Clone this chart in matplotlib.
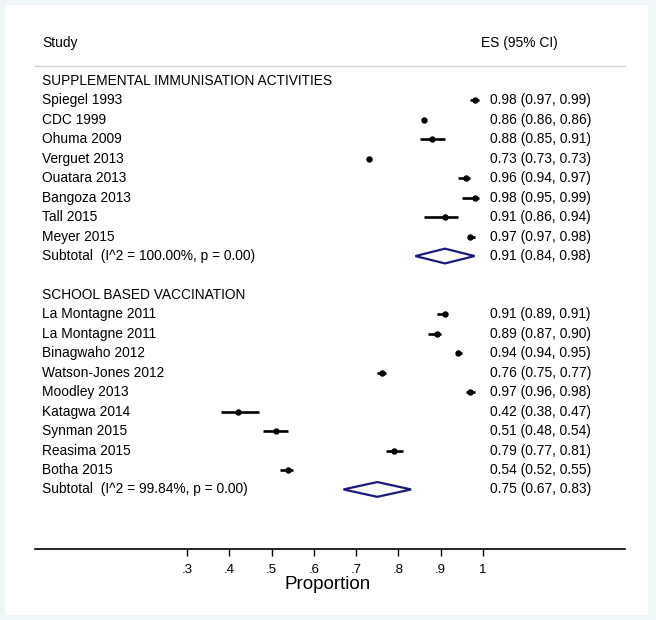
import matplotlib.pyplot as plt
from matplotlib.patches import Polygon, Rectangle

plt.rcParams['font.family'] = ['Liberation Sans', 'DejaVu Sans']

# Data
group1_title = 'SUPPLEMENTAL IMMUNISATION ACTIVITIES'
group1_studies = ['Spiegel 1993', 'CDC 1999', 'Ohuma 2009', 'Verguet 2013',
                  'Ouatara 2013', 'Bangoza 2013', 'Tall 2015', 'Meyer 2015']
group1_es = [0.98, 0.86, 0.88, 0.73, 0.96, 0.98, 0.91, 0.97]
group1_lo = [0.97, 0.86, 0.85, 0.73, 0.94, 0.95, 0.86, 0.97]
group1_hi = [0.99, 0.86, 0.91, 0.73, 0.97, 0.99, 0.94, 0.98]
group1_sub = (0.91, 0.84, 0.98)
group1_sub_label = 'Subtotal  (I^2 = 100.00%, p = 0.00)'

group2_title = 'SCHOOL BASED VACCINATION'
group2_studies = ['La Montagne 2011', 'La Montagne 2011', 'Binagwaho 2012',
                  'Watson-Jones 2012', 'Moodley 2013', 'Katagwa 2014',
                  'Synman 2015', 'Reasima 2015', 'Botha 2015']
group2_es = [0.91, 0.89, 0.94, 0.76, 0.97, 0.42, 0.51, 0.79, 0.54]
group2_lo = [0.89, 0.87, 0.94, 0.75, 0.96, 0.38, 0.48, 0.77, 0.52]
group2_hi = [0.91, 0.90, 0.95, 0.77, 0.98, 0.47, 0.54, 0.81, 0.55]
group2_sub = (0.75, 0.67, 0.83)
group2_sub_label = 'Subtotal  (I^2 = 99.84%, p = 0.00)'

ticks = [0.3, 0.4, 0.5, 0.6, 0.7, 0.8, 0.9, 1.0]
tick_labels = ['.3', '.4', '.5', '.6', '.7', '.8', '.9', '1']

fig = plt.figure(figsize=(6.56, 6.20), dpi=100)
fig.patch.set_facecolor('#eef7f7')
fig.patches.append(Rectangle((5 / 656, 5 / 620), 643 / 656, 610 / 620,
                             transform=fig.transFigure, facecolor='white',
                             edgecolor='none', zorder=-10))

ax = fig.add_axes([0, 0, 1, 1])
ax.set_facecolor('none')
px_per_unit = 422.9
x0 = 0.3 - 187 / px_per_unit
ax.set_xlim(x0, x0 + 656 / px_per_unit)
row_px = 19.45
ax.set_ylim((620 - 81) / row_px, -81 / row_px)

name_x = x0 + 42 / px_per_unit
es_x = x0 + 490 / px_per_unit
fs = 9.9
navy = '#1a1a7a'


def draw_group(start, title, studies, es, lo, hi, sub, sub_label):
    ax.text(name_x, start, title, fontsize=fs, va='center', ha='left')
    rows = [start + 1 + i for i in range(len(studies))]
    for r, name, e, l, h in zip(rows, studies, es, lo, hi):
        ax.text(name_x, r, name, fontsize=fs, va='center', ha='left')
        ax.plot([l, h], [r, r], color='black', lw=1.9, solid_capstyle='butt')
        ax.plot(e, r, 'o', color='black', ms=3.6)
        ax.text(es_x, r, f'{e:.2f} ({l:.2f}, {h:.2f})', fontsize=fs,
                va='center', ha='left')
    r = start + 1 + len(studies)
    e, l, h = sub
    ax.text(name_x, r, sub_label, fontsize=fs, va='center', ha='left')
    ax.add_patch(Polygon([(l, r), (e, r - 0.38), (h, r), (e, r + 0.38)],
                         closed=True, facecolor='white', edgecolor=navy, lw=1.6))
    ax.text(es_x, r, f'{e:.2f} ({l:.2f}, {h:.2f})', fontsize=fs,
            va='center', ha='left')
    return r


end1 = draw_group(0, group1_title, group1_studies, group1_es, group1_lo,
                  group1_hi, group1_sub, group1_sub_label)
draw_group(end1 + 2, group2_title, group2_studies, group2_es, group2_lo,
           group2_hi, group2_sub, group2_sub_label)

# header
ax.text(name_x, (43 - 81) / row_px, 'Study', fontsize=fs, va='center', ha='left')
ax.text(x0 + 481 / px_per_unit, (43 - 81) / row_px, 'ES (95% CI)', fontsize=fs,
        va='center', ha='left')
line_l, line_r = x0 + 35 / px_per_unit, x0 + 625 / px_per_unit
ax.plot([line_l, line_r], [(66 - 81) / row_px] * 2, color='#d0d0d0', lw=1)

# x axis
for s in ['top', 'left', 'right']:
    ax.spines[s].set_visible(False)
ax.spines['bottom'].set_position(('data', (549 - 81) / row_px))
ax.spines['bottom'].set_bounds(line_l, line_r)
ax.spines['bottom'].set_linewidth(1.2)
ax.set_yticks([])
ax.set_xticks(ticks)
ax.set_xticklabels(tick_labels)
ax.tick_params(axis='x', length=5, width=1, labelsize=9.5, pad=6)
ax.set_xlabel('Proportion', fontsize=13.5, labelpad=0)

fig.savefig('out.png', dpi=100)
